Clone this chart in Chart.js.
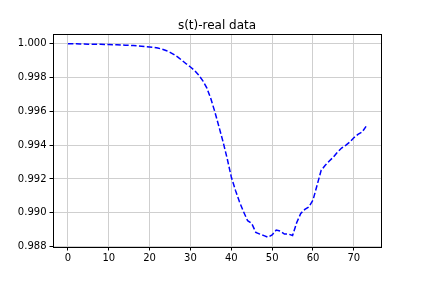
<!DOCTYPE html>
<html>
<head>
<meta charset="utf-8">
<script src="https://cdn.jsdelivr.net/npm/chart.js@4/dist/chart.umd.min.js"></script>
<style>
  html, body { margin: 0; padding: 0; background: #fff; }
  #wrap { width: 423px; height: 282px; }
</style>
</head>
<body>
<div id="wrap"><canvas id="c" width="423" height="282"></canvas></div>
<script>
// t values (days) and s(t)
const days = [];
for (let i = 0; i <= 73; i++) days.push(i);
const sValues = [
  1.00000, 0.99999, 0.99999, 0.99998, 0.99998, 0.99997, 0.99997, 0.99996, 0.99996, 0.99995,
  0.99995, 0.99994, 0.99994, 0.99992, 0.99991, 0.99990, 0.99989, 0.99987, 0.99985, 0.99983,
  0.99981, 0.99978, 0.99974, 0.99968, 0.99960, 0.99949, 0.99935, 0.99919, 0.99900, 0.99880,
  0.99862, 0.99842, 0.99815, 0.99782, 0.99739, 0.99674, 0.99595, 0.99507, 0.99418, 0.99320,
  0.99212, 0.99134, 0.99065, 0.99006, 0.98953, 0.98937, 0.98884, 0.98874, 0.98865, 0.98855,
  0.98869, 0.98898, 0.98892, 0.98874, 0.98874, 0.98866, 0.98941, 0.98996, 0.99020, 0.99035,
  0.99075, 0.99163, 0.99251, 0.99281, 0.99306, 0.99330, 0.99359, 0.99383, 0.99399, 0.99418,
  0.99444, 0.99464, 0.99477, 0.99511
];
const xTicks = [0, 10, 20, 30, 40, 50, 60, 70];
const yTicks = [0.988, 0.990, 0.992, 0.994, 0.996, 0.998, 1.000];
const chartTitle = 's(t)-real data';

// matplotlib style 5% margins
function padRange(arr) {
  const lo = Math.min(...arr), hi = Math.max(...arr);
  const m = (hi - lo) * 0.05;
  return [lo - m, hi + m];
}
const [xMin, xMax] = padRange(days);
const [yMin, yMax] = padRange(sValues);

const font = { family: 'DejaVu Sans', size: 10 };

// box around the axes
const frame = {
  id: 'frame',
  afterDraw(chart) {
    const a = chart.chartArea, ctx = chart.ctx;
    ctx.save();
    ctx.strokeStyle = '#000';
    ctx.lineWidth = 1;
    ctx.strokeRect(Math.round(a.left) + 0.5, Math.round(a.top) + 0.5,
      Math.round(a.right - a.left), Math.round(a.bottom - a.top));
    ctx.restore();
  }
};

new Chart(document.getElementById('c'), {
  type: 'line',
  data: {
    datasets: [{
      data: days.map((d, i) => ({ x: d, y: sValues[i] })),
      borderColor: '#0000ff',
      borderWidth: 1.5,
      borderDash: [5.5, 2.4],
      pointRadius: 0,
      tension: 0,
      fill: false
    }]
  },
  options: {
    responsive: false,
    animation: false,
    devicePixelRatio: 1,
    layout: { padding: { left: 0, right: 42, top: 0, bottom: 0 } },
    plugins: {
      legend: { display: false },
      tooltip: { enabled: false },
      title: {
        display: true,
        text: chartTitle,
        fullSize: false,
        color: '#000',
        font: { family: 'DejaVu Sans', size: 12, weight: 'normal' },
        padding: { top: 19, bottom: 0.6 }
      }
    },
    scales: {
      x: {
        type: 'linear',
        min: xMin,
        max: xMax,
        afterBuildTicks: s => { s.ticks = xTicks.map(v => ({ value: v })); },
        afterFit: s => { s.height = 35; },
        ticks: { color: '#000', font: font, padding: 2, maxRotation: 0, callback: v => String(v) },
        grid: { color: '#cfcfcf', tickColor: '#000', tickLength: 3.5 },
        border: { display: false }
      },
      y: {
        type: 'linear',
        min: yMin,
        max: yMax,
        afterBuildTicks: s => { s.ticks = yTicks.map(v => ({ value: v })); },
        afterFit: s => { s.width = 53; },
        ticks: { color: '#000', font: font, padding: 3, callback: v => v.toFixed(3) },
        grid: { color: '#cfcfcf', tickColor: '#000', tickLength: 3.5 },
        border: { display: false }
      }
    }
  },
  plugins: [frame]
});
</script>
</body>
</html>
